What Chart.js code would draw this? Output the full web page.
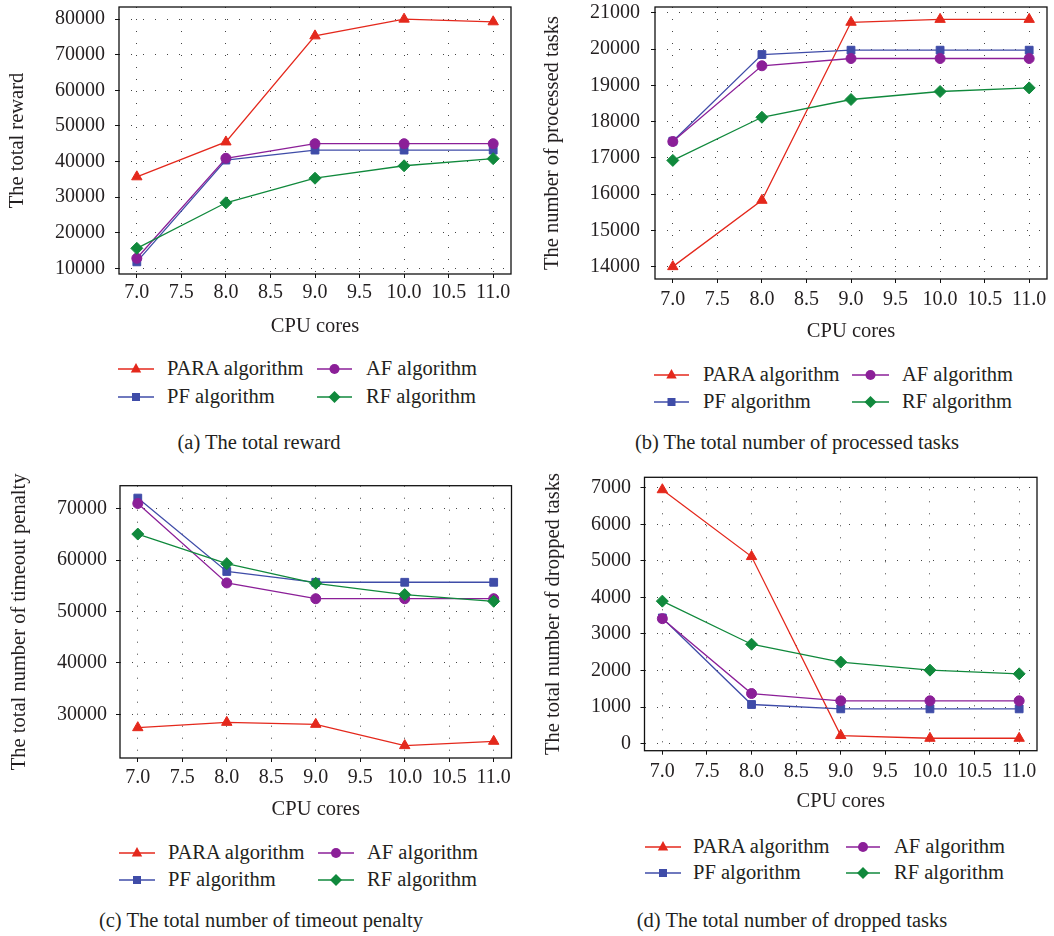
<!DOCTYPE html>
<html><head><meta charset="utf-8">
<script src="https://cdn.jsdelivr.net/npm/chart.js@4.4.1/dist/chart.umd.min.js"></script>
<style>
html,body{margin:0;padding:0;background:#fff}
body{width:1054px;height:936px;position:relative;overflow:hidden;font-family:"Liberation Serif","DejaVu Serif",serif;color:#231f20}
canvas{position:absolute}
.lt{position:absolute;font-size:20.5px;line-height:24px;height:24px;white-space:nowrap}
.cap{position:absolute;font-size:20.5px;line-height:24px;white-space:nowrap;transform:translate(-50%,-50%)}
svg{position:absolute;overflow:visible}
</style></head><body>
<script>
// ---------- data ----------
const cpuCores = [7, 8, 9, 10, 11];
const seriesNames = ['PARA algorithm', 'PF algorithm', 'AF algorithm', 'RF algorithm'];
const xTicks = [7.0, 7.5, 8.0, 8.5, 9.0, 9.5, 10.0, 10.5, 11.0];

// (a) total reward
const rewardPARA = [35700, 45500, 75300, 80000, 79250];
const rewardPF   = [11800, 40400, 43200, 43200, 43200];
const rewardAF   = [12800, 40900, 45000, 45000, 45000];
const rewardRF   = [15600, 28400, 35300, 38800, 40800];
const rewardTicks = [10000, 20000, 30000, 40000, 50000, 60000, 70000, 80000];

// (b) processed tasks
const processedPARA = [14000, 15830, 20740, 20820, 20820];
const processedPF   = [17460, 19850, 19970, 19970, 19970];
const processedAF   = [17450, 19540, 19740, 19740, 19740];
const processedRF   = [16930, 18120, 18610, 18830, 18930];
const processedTicks = [14000, 15000, 16000, 17000, 18000, 19000, 20000, 21000];

// (c) timeout penalty
const timeoutPARA = [27410, 28450, 28060, 23920, 24760];
const timeoutPF   = [72080, 57800, 55700, 55700, 55700];
const timeoutAF   = [71030, 55570, 52500, 52500, 52500];
const timeoutRF   = [65080, 59320, 55500, 53300, 52000];
const timeoutTicks = [30000, 40000, 50000, 60000, 70000];

// (d) dropped tasks
const droppedPARA = [6950, 5120, 220, 145, 145];
const droppedPF   = [3440, 1070, 950, 950, 950];
const droppedAF   = [3420, 1370, 1170, 1170, 1170];
const droppedRF   = [3900, 2720, 2230, 2010, 1910];
const droppedTicks = [0, 1000, 2000, 3000, 4000, 5000, 6000, 7000];

// ---------- styles / layout ----------
const FONT = '"Liberation Serif","DejaVu Serif",serif';
const TXT = '#231f20';
const styles = [
  {color: '#e4281c', pointStyle: 'triangle', r: 6, order: 4},
  {color: '#3f4ca8', pointStyle: 'rect', r: 5.5, order: 3},
  {color: '#8b1f98', pointStyle: 'circle', r: 5, order: 2},
  {color: '#10893c', pointStyle: 'rectRot', r: 6, order: 1}
];

const panels = [
  {left: 0, top: 0, width: 527, plot: {l: 119, r: 511, t: 2, b: 274}, xTickY: 293, xTitleY: 327, yTitleX: 18, yLabRight: 105,
   yTitle: 'The total reward', ticks: rewardTicks, series: [rewardPARA, rewardPF, rewardAF, rewardRF],
   legRows: [369, 397], legCols: [[118, 154, 167], [317, 352, 366]], caption: '(a) The total reward', capX: 259, capY: 442},
  {left: 527, top: 0, width: 527, plot: {l: 655, r: 1050, t: 5, b: 279}, xTickY: 300, xTitleY: 332, yTitleX: 553, yLabRight: 640,
   yTitle: 'The number of processed tasks', ticks: processedTicks, series: [processedPARA, processedPF, processedAF, processedRF],
   legRows: [375, 402], legCols: [[654, 689, 703], [852, 889, 902]], caption: '(b) The total number of processed tasks', capX: 797, capY: 442},
  {left: 0, top: 466, width: 527, plot: {l: 120, r: 511.5, t: 485.7, b: 758}, xTickY: 778, xTitleY: 810, yTitleX: 20, yLabRight: 107,
   yTitle: 'The total number of timeout penalty', ticks: timeoutTicks, series: [timeoutPARA, timeoutPF, timeoutAF, timeoutRF],
   legRows: [853, 880], legCols: [[119, 155, 168], [318, 354, 367]], caption: '(c) The total number of timeout penalty', capX: 261, capY: 920},
  {left: 527, top: 466, width: 527, plot: {l: 644.5, r: 1037, t: 477.3, b: 750.7}, xTickY: 772, xTitleY: 802, yTitleX: 554, yLabRight: 631,
   yTitle: 'The total number of dropped tasks', ticks: droppedTicks, series: [droppedPARA, droppedPF, droppedAF, droppedRF],
   legRows: [847, 873], legCols: [[645, 681, 693], [846, 880, 894]], caption: '(d) The total number of dropped tasks', capX: 792, capY: 920}
];

const frame = {
  id: 'frame',
  afterDraw(chart) {
    const a = chart.chartArea, c = chart.ctx;
    c.save();
    c.strokeStyle = '#111';
    c.lineWidth = 1.3;
    c.strokeRect(a.left, a.top, a.right - a.left, a.bottom - a.top);
    c.restore();
  }
};

function markerSVG(style, x1, x2, h) {
  const cx = (x1 + x2) / 2 - x1, cy = h / 2, col = style.color;
  let m = '';
  if (style.pointStyle === 'triangle') m = `<polygon points="${cx},${cy-6} ${cx+5.2},${cy+3.5} ${cx-5.2},${cy+3.5}" fill="${col}"/>`;
  else if (style.pointStyle === 'rect') m = `<rect x="${cx-4}" y="${cy-4}" width="8" height="8" fill="${col}"/>`;
  else if (style.pointStyle === 'circle') m = `<circle cx="${cx}" cy="${cy}" r="5" fill="${col}"/>`;
  else m = `<polygon points="${cx},${cy-6} ${cx+6},${cy} ${cx},${cy+6} ${cx-6},${cy}" fill="${col}"/>`;
  return `<line x1="0" y1="${cy}" x2="${x2-x1}" y2="${cy}" stroke="${col}" stroke-width="1.4"/>` + m;
}

panels.forEach((P, pi) => {
  const cv = document.createElement('canvas');
  const H = Math.round(P.xTitleY + 12.3 - P.top);
  cv.width = P.width; cv.height = H;
  cv.style.left = P.left + 'px'; cv.style.top = P.top + 'px';
  cv.style.width = P.width + 'px'; cv.style.height = H + 'px';
  document.body.appendChild(cv);

  const all = P.series.flat();
  const lo = Math.min(...all), hi = Math.max(...all), pad = (hi - lo) * 0.05;
  const yW = P.plot.l - P.left;
  const xH = H - (P.plot.b - P.top);

  const datasets = P.series.map((vals, i) => ({
    label: seriesNames[i],
    data: cpuCores.map((x, k) => ({x: x, y: vals[k]})),
    borderColor: styles[i].color,
    backgroundColor: styles[i].color,
    pointBackgroundColor: styles[i].color,
    pointBorderColor: styles[i].color,
    pointBorderWidth: 1,
    pointStyle: styles[i].pointStyle,
    pointRadius: styles[i].r,
    borderWidth: 1.3,
    tension: 0,
    order: styles[i].order
  }));

  new Chart(cv, {
    type: 'line',
    data: {datasets},
    plugins: [frame],
    options: {
      responsive: false, animation: false, devicePixelRatio: 1,
      layout: {padding: {left: 0, top: P.plot.t - P.top, right: P.left + P.width - P.plot.r, bottom: 0}},
      plugins: {legend: {display: false}, tooltip: {enabled: false}},
      scales: {
        x: {
          type: 'linear', min: 6.8, max: 11.2,
          afterBuildTicks: s => { s.ticks = xTicks.map(v => ({value: v})); },
          afterFit: s => { s.height = xH; s.paddingLeft = 0; s.paddingRight = 0; },
          ticks: {padding: P.xTickY - P.plot.b - 4 - 12, color: TXT, font: {family: FONT, size: 20}, maxRotation: 0, autoSkip: false,
                  callback: v => Number(v).toFixed(1)},
          grid: {color: '#444', lineWidth: 1, tickLength: 4, tickColor: '#111', tickWidth: 1, tickBorderDash: []},
          border: {display: false, dash: [1, 11]},
          title: {display: true, text: 'CPU cores', color: TXT, font: {family: FONT, size: 20.5}, padding: {top: 0, bottom: 0}}
        },
        y: {
          type: 'linear', min: lo - pad, max: hi + pad,
          afterBuildTicks: s => { s.ticks = P.ticks.map(v => ({value: v})); },
          afterFit: s => { s.width = yW; s.paddingTop = 0; s.paddingBottom = 0; },
          ticks: {padding: P.plot.l - P.yLabRight - 4, color: TXT, font: {family: FONT, size: 20}, autoSkip: false,
                  callback: v => String(v)},
          grid: {color: '#444', lineWidth: 1, tickLength: 4, tickColor: '#111', tickWidth: 1, tickBorderDash: []},
          border: {display: false, dash: [1, 11]},
          title: {display: true, text: P.yTitle, color: TXT, font: {family: FONT, size: 20.5},
                  padding: {top: P.yTitleX - P.left - 12.3, bottom: 0}}
        }
      }
    }
  });

  // legend: two columns, column-wise fill (PARA, PF | AF, RF)
  seriesNames.forEach((name, i) => {
    const col = Math.floor(i / 2), row = i % 2;
    const [x1, x2, tx] = P.legCols[col];
    const y = P.legRows[row];
    const svg = document.createElementNS('http://www.w3.org/2000/svg', 'svg');
    svg.setAttribute('width', x2 - x1); svg.setAttribute('height', 16);
    svg.style.left = x1 + 'px'; svg.style.top = (y - 8) + 'px';
    svg.innerHTML = markerSVG(styles[i], x1, x2, 16);
    document.body.appendChild(svg);
    const t = document.createElement('div');
    t.className = 'lt'; t.textContent = name;
    t.style.left = tx + 'px'; t.style.top = (y - 13) + 'px';
    document.body.appendChild(t);
  });

  const cap = document.createElement('div');
  cap.className = 'cap'; cap.textContent = P.caption;
  cap.style.left = P.capX + 'px'; cap.style.top = P.capY + 'px';
  document.body.appendChild(cap);
});
</script>
</body></html>
